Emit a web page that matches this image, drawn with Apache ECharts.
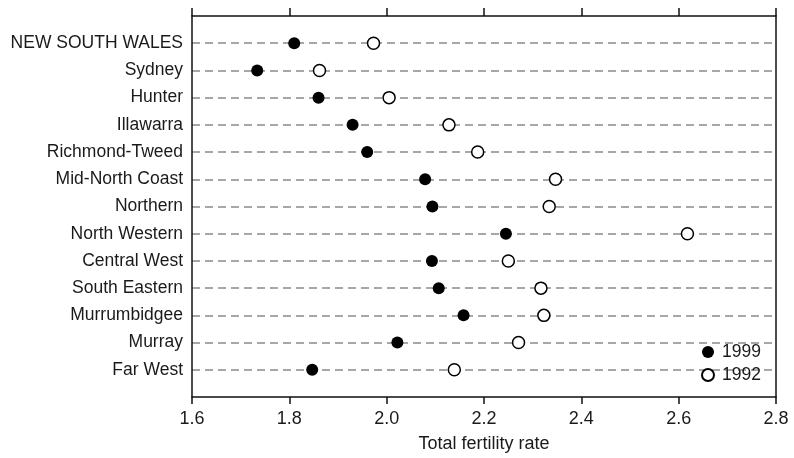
<!DOCTYPE html>
<html>
<head>
<meta charset="utf-8">
<script src="https://cdn.jsdelivr.net/npm/echarts@6/dist/echarts.min.js"></script>
<style>html,body{margin:0;padding:0;background:#fff}#c{width:794px;height:458px}</style>
</head>
<body>
<div id="c"></div>
<script>
var regions = ['NEW SOUTH WALES','Sydney','Hunter','Illawarra','Richmond-Tweed','Mid-North Coast','Northern','North Western','Central West','South Eastern','Murrumbidgee','Murray','Far West'];
var tfr1999 = [1.81,1.734,1.86,1.93,1.96,2.079,2.094,2.245,2.093,2.107,2.158,2.022,1.847];
var tfr1992 = [1.973,1.862,2.005,2.128,2.187,2.347,2.334,2.618,2.25,2.317,2.323,2.271,2.139];
var xTicks = [1.6,1.8,2.0,2.2,2.4,2.6,2.8];

var cats = [''].concat(regions).concat(['']);
var font = "'Liberation Sans', Arial, sans-serif";
function pairs(vals){ return vals.map(function(v,i){ return [v, regions[i]]; }); }

var chart = echarts.init(document.getElementById('c'), null, {renderer:'canvas'});
chart.setOption({
  animation:false,
  backgroundColor:'#fff',
  grid:{left:192,right:18,top:16,bottom:61,containLabel:false,outerBoundsMode:'none'},
  legend:{
    orient:'vertical', left:701, top:343, padding:0, itemWidth:12, itemHeight:12, itemGap:5,
    icon:'circle',
    textStyle:{fontFamily:font,fontSize:17.5,color:'#1a1a1a',padding:[0,0,0,3]},
    data:[{name:'1999'},{name:'1992'}]
  },
  xAxis:[{
    type:'value', position:'bottom', min:xTicks[0], max:xTicks[xTicks.length-1], interval:0.2,
    name:'Total fertility rate', nameLocation:'middle', nameGap:38,
    nameTextStyle:{fontFamily:font,fontSize:18,color:'#1a1a1a'},
    axisLine:{show:true,lineStyle:{color:'#111',width:1.5}},
    axisTick:{show:true,inside:false,length:7,lineStyle:{color:'#111',width:1.5}},
    axisLabel:{fontFamily:font,fontSize:18,color:'#1a1a1a',margin:13,formatter:function(v){return v.toFixed(1);}},
    splitLine:{show:false}
  },{
    type:'value', position:'top', min:xTicks[0], max:xTicks[xTicks.length-1], interval:0.2,
    axisLine:{show:true,lineStyle:{color:'#111',width:1.5}},
    axisTick:{show:true,inside:false,length:8,lineStyle:{color:'#111',width:1.5}},
    axisLabel:{show:false},
    splitLine:{show:false}
  }],
  yAxis:[{
    type:'category', data:cats, inverse:true, boundaryGap:false,
    axisLine:{show:true,lineStyle:{color:'#111',width:1.5}},
    axisTick:{show:false},
    axisLabel:{fontFamily:font,fontSize:17.5,color:'#1a1a1a',margin:9,interval:0},
    splitLine:{show:true,interval:function(i,v){return v!=='';},lineStyle:{color:'#8a8a8a',width:1.5,type:[8,5]}}
  },{
    type:'category', data:cats, inverse:true, boundaryGap:false, position:'right',
    axisLine:{show:true,lineStyle:{color:'#111',width:1.5}},
    axisTick:{show:false}, axisLabel:{show:false}, splitLine:{show:false}
  }],
  series:[{
    name:'1999', type:'scatter', xAxisIndex:0, yAxisIndex:0, symbol:'circle', symbolSize:12,
    itemStyle:{color:'#000',opacity:1}, data:pairs(tfr1999), z:3
  },{
    name:'1992', type:'scatter', xAxisIndex:0, yAxisIndex:0, symbol:'circle', symbolSize:12,
    itemStyle:{color:'#fff',borderColor:'#000',borderWidth:1.5,opacity:1}, data:pairs(tfr1992), z:3
  }]
});
</script>
</body>
</html>
